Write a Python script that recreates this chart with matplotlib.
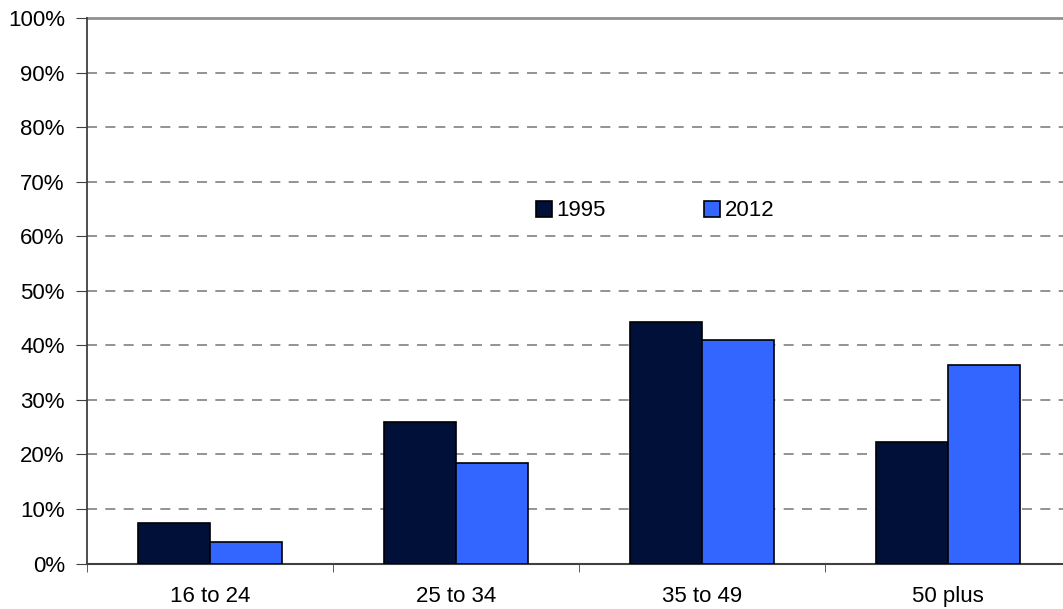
import numpy as np
import matplotlib
matplotlib.use("Agg")
import matplotlib.pyplot as plt
from matplotlib.ticker import FixedLocator

plt.rcParams["font.family"] = ["Liberation Sans", "DejaVu Sans"]

categories = ["16 to 24", "25 to 34", "35 to 49", "50 plus"]
values_1995 = [7.5, 26.0, 44.3, 22.3]
values_2012 = [3.9, 18.4, 41.0, 36.4]
series_labels = ["1995", "2012"]
y_ticks = list(range(0, 101, 10))

fig = plt.figure(figsize=(10.63, 6.09), dpi=100)
# plot area runs a little past the right edge of the picture
ax = fig.add_axes([87 / 1063, 45.5 / 609, 984 / 1063, 545.5 / 609])

x = np.arange(len(categories))
w = 0.292
ax.bar(x - w / 2, values_1995, w, color="#001038", edgecolor="black", linewidth=1.2,
       label=series_labels[0], zorder=3)
ax.bar(x + w / 2, values_2012, w, color="#3366FF", edgecolor="black", linewidth=1.2,
       label=series_labels[1], zorder=3)

ax.set_xlim(-0.5, len(categories) - 0.5)
ax.set_ylim(0, 100)
ax.set_yticks(y_ticks)
ax.set_yticklabels([f"{t}%" for t in y_ticks], fontsize=16)
ax.set_xticks(x)
ax.set_xticklabels(categories, fontsize=16)
ax.xaxis.set_minor_locator(FixedLocator(np.arange(-0.5, len(categories) - 0.4, 1)))
ax.tick_params(axis="x", which="major", length=0, pad=16)
ax.tick_params(axis="x", which="minor", length=6, color="#404040")
ax.tick_params(axis="y", length=8, color="#404040", pad=8)

for t in y_ticks[1:-1]:
    ax.axhline(t, color="#808080", linewidth=1.2, linestyle=(0, (6, 5)), zorder=1)
ax.axhline(100, color="#909090", linewidth=2, zorder=1, clip_on=False)

for s in ["top", "right"]:
    ax.spines[s].set_visible(False)
ax.spines["left"].set_color("#404040")
ax.spines["left"].set_linewidth(1.3)
ax.spines["bottom"].set_color("#404040")
ax.spines["bottom"].set_linewidth(1.5)

ax.legend(loc="center", bbox_to_anchor=((655 - 87) / 984, (563.5 - 211) / 545.5), ncol=2,
          frameon=False, fontsize=16, handlelength=0.75, handleheight=0.75,
          handletextpad=0.2, columnspacing=4.4)

fig.savefig("out.png", dpi=100)
